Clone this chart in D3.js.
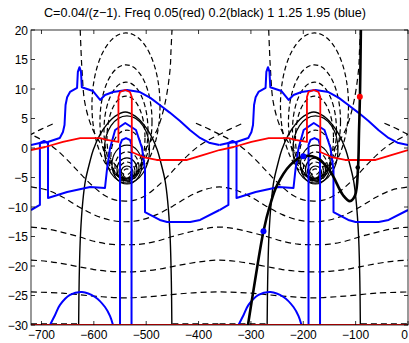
<!DOCTYPE html>
<html><head><meta charset="utf-8">
<script src="https://cdn.jsdelivr.net/npm/d3@7"></script>
<style>body{margin:0;background:#fff}svg{display:block}</style>
</head><body>
<svg id="chart" width="409" height="343"></svg>
<script>
const titleText = "C=0.04/(z\u22121). Freq 0.05(red) 0.2(black) 1 1.25 1.95 (blue)";
const xTickValues = [-700, -600, -500, -400, -300, -200, -100, 0];
const yTickValues = [-30, -25, -20, -15, -10, -5, 0, 5, 10, 15, 20];
const xDomain = [-720, 0];
const yDomain = [-30, 20];

// the contour pattern repeats every 360; centres of the two periods shown
const periodCentres = [-540, -180];

// ---- one period of each contour, x given as offset from the period centre ----
// freq 0.05 (red)
const redWave = [[-180,-0.34],[-153,0.17],[-119,1.02],[-86,1.69],[-48,1.69],[-35,1.36],[-13,1.02],
  [-13,8.64],[-10,9.49],[0,9.83],[9,9.49],[12.5,8.64],[12.5,-0.68],[34,-1.53],[60,-2.03],
  [118,-2.03],[148,-1.19],[180,-0.34]];

// freq 0.2 (black) – dashed level lines running across the whole range
const dashedWaves = [
  [[-180,-6.6],[-150,-7.1],[-120,-8.3],[-90,-9.9],[-60,-11.3],[-30,-12.2],[0,-12.5],
   [30,-12.2],[60,-11.3],[90,-9.9],[120,-8.3],[150,-7.1],[180,-6.6]],
  [[-180,-13.4],[-150,-13.7],[-120,-14.3],[-90,-15.0],[-60,-15.8],[-30,-16.3],[0,-16.4],
   [30,-16.3],[60,-15.8],[90,-15.0],[120,-14.3],[150,-13.7],[180,-13.4]],
  [[-180,-19.0],[-150,-19.2],[-120,-19.6],[-90,-20.1],[-60,-20.6],[-30,-20.9],[0,-21.0],
   [30,-20.9],[60,-20.6],[90,-20.1],[120,-19.6],[150,-19.2],[180,-19.0]],
  [[-180,-24.4],[-120,-24.6],[-60,-25.1],[0,-25.4],[60,-25.1],[120,-24.6],[180,-24.4]]
];
// wide dashed trough around each centre; neighbouring ones cross between periods
const dashedTrough = [[-225,4.2],[-200,3.2],[-180,2.3],[-160,1.4],[-140,0.3],[-120,-1.2],[-100,-3.0],[-80,-4.9],
  [-60,-6.6],[-40,-8.0],[-20,-8.8],[0,-9.0],[20,-8.8],[40,-8.0],[60,-6.6],[80,-4.9],[100,-3.0],
  [120,-1.2],[140,0.3],[160,1.4],[180,2.3],[200,3.2],[225,4.2]];
// dashed U opening upwards around each centre
const dashedU = [[-86,20],[-84.5,16.6],[-82.6,13.2],[-77,7.6],[-61.6,3.05],[-35,-0.85],[-16,-3.2],[1.4,-4.6],
  [18.6,-3.2],[34,-0.85],[60.6,3.05],[76,7.6],[85.5,13.2],[87.4,16.6],[89.3,20]];
// dashed segments along the lower edge
const dashedBottom = [[[-180,-29.8],[-90,-29.8]], [[90,-29.8],[180,-29.8]]];
// nested closed contours around each centre: [dx, y, rx, ry, dashed]
const rings = [
  [1.4, 7.2, 65, 12.3, 1], [1.4, 4.5, 49.7, 9.6, 1], [1.4, 2.97, 42, 8.2, 1], [1.4, 1.7, 36.3, 7.1, 1],
  [3.3, -0.25, 43, 5.7, 0], [3.3, -1.27, 30.6, 4.3, 1], [3.3, -2.8, 28.6, 3.3, 0], [3.3, -3.2, 22.9, 2.54, 1],
  [3.3, -3.64, 19.1, 1.95, 0], [3.3, -3.9, 15.3, 1.53, 1], [3.3, -4.15, 11.5, 1.1, 0], [3.3, -4.3, 7.6, 0.76, 1]
];
// solid arch
const solidArch = [[-89,-30],[-88,-22.4],[-85.5,-14.7],[-81,-9],[-76,-5.5],[-68,-2.5],[-61,-0.3],[-48,2.3],
  [-35,4.0],[-19,5.4],[0,6.1],[19,5.4],[35,4.0],[48,2.3],[61,-0.3],[68,-2.5],[76,-5.5],[81,-9],
  [85.5,-14.7],[88,-22.4],[89,-30]];

// freq 1, 1.25, 1.95 (blue)
const blueUpper = [[-180,0.51],[-163,0.85],[-148,1.02],[-125,1.69],[-119,2.71],[-116,3.9],[-114,7.3],[-111,8.6],
  [-105.5,9.5],[-92,10.2],[-90.5,12.9],[-87.4,13.7],[-84.5,12.9],[-83,10.3],[-61.6,9.66],[-48,8.14],
  [-38.7,8.98],[-23.4,9.49],[3.3,9.83],[28,9.49],[48,8.5],[66,7.29],[85,6.0],[104.6,4.58],[124,3.0],
  [142.8,1.7],[160,0.9],[180,0.51]];
const blueLower = [[-180,-10.51],[-163,-9.66],[-163,0.85],[-155,1.19],[-147.5,0.85],[-147.5,-8.47],
  [-111,-7.46],[-67,-6.61],[-38.7,-6.78],[-35,-3.73],[-29,0],[-19.3,3.05],[0,4.24],[20.5,3.05],
  [32,0],[37.7,-3.73],[37.7,-10.85],[66,-12.2],[80,-12.54],[124,-12.54],[143,-12.2],[180,-10.51]];
const blueSpike = [[-10,-30],[-10,0.51],[-6.2,1.36],[1.4,1.69],[9.1,1.36],[12,0.51],[12,-30]];
const blueDome = [[-143.7,-30],[-134,-28.3],[-124.6,-26.6],[-105.5,-24.9],[-82.6,-24.4],[-57.8,-25.25],
  [-38.7,-26.95],[-29,-28.5],[-23.4,-30]];

// single trajectory in the right period (absolute x)
const trackX = [-305.6,-292.2,-276,-263.5,-250,-225,-200,-174,-149,-124,-111,-101,-95.5,-93.5,-91.7,-90];
const trackY = [-30,-22.5,-14.1,-9.7,-6.3,-2.9,-1.4,-1.7,-3.9,-8.0,-9.0,-8.0,-3.4,3.0,9.0,20];
const markerX = [-92, -276, -200, -96];
const markerY = [8.7, -14.1, -1.4, -3.3];
const markerColour = ["#ff0000", "#0000ff", "#0000ff", "#000000"];
const markerSize = [3, 3, 3, 2.3];

const svg = d3.select("#chart");
const margin = {left: 31, right: 1, top: 30, bottom: 18};
const W = 409, H = 343;
const x = d3.scaleLinear().domain(xDomain).range([margin.left, W - margin.right]);
const y = d3.scaleLinear().domain(yDomain).range([H - margin.bottom, margin.top]);

svg.append("defs").append("clipPath").attr("id", "plotclip")
  .append("rect").attr("x", x(xDomain[0])).attr("y", y(yDomain[1]))
  .attr("width", x(xDomain[1]) - x(xDomain[0])).attr("height", y(yDomain[0]) - y(yDomain[1]));

const plot = svg.append("g").attr("clip-path", "url(#plotclip)");
const line = d3.line().x(d => x(d[0])).y(d => y(d[1]));
const smooth = d3.line().x(d => x(d[0])).y(d => y(d[1])).curve(d3.curveCatmullRom.alpha(0.5));

const shift = (pts, c) => pts.map(([dx, v]) => [c + dx, v]);
const acrossPeriods = pts => periodCentres.flatMap((c, i) => shift(i === 0 ? pts : pts.slice(1), c));

function draw(gen, pts, colour, width, dash) {
  plot.append("path").attr("d", gen(pts)).attr("fill", "none")
    .attr("stroke", colour).attr("stroke-width", width)
    .attr("stroke-dasharray", dash || null).attr("stroke-linejoin", "round");
}

// black dashed level lines
dashedWaves.forEach(w => draw(smooth, acrossPeriods(w), "#000", 1.2, "6,4"));
// troughs also repeat just outside the shown range so their branches enter from the edges
[-900, ...periodCentres, 180].forEach(c => draw(smooth, shift(dashedTrough, c), "#000", 1.2, "6,4"));
periodCentres.forEach(c => {
  draw(smooth, shift(dashedU, c), "#000", 1.2, "6,4");
  dashedBottom.forEach(s => draw(line, shift(s, c), "#000", 1.2, "6,4"));
  rings.forEach(([dx, cy, rx, ry, dashed]) => {
    plot.append("ellipse")
      .attr("cx", x(c + dx)).attr("cy", y(cy))
      .attr("rx", x(c + dx + rx) - x(c + dx)).attr("ry", y(cy - ry) - y(cy))
      .attr("fill", "none").attr("stroke", "#000").attr("stroke-width", 1.2)
      .attr("stroke-dasharray", dashed ? "5,3" : null);
  });
  draw(smooth, shift(solidArch, c), "#000", 1.4);
});

// blue contours
periodCentres.forEach(c => {
  draw(line, shift(blueUpper, c), "#0000ff", 2);
  draw(line, shift(blueLower, c), "#0000ff", 2);
  draw(line, shift(blueSpike, c), "#0000ff", 2);
  draw(smooth, shift(blueDome, c), "#0000ff", 2);
});

// red contours
draw(line, acrossPeriods(redWave), "#ff0000", 1.8);
draw(line, [[xDomain[0], -30], [xDomain[1], -30]], "#ff0000", 2.2);

// trajectory and markers
draw(smooth, trackX.map((v, i) => [v, trackY[i]]), "#000", 2.6);
plot.selectAll("circle.m").data(markerX).join("circle").attr("class", "m")
  .attr("cx", d => x(d)).attr("cy", (d, i) => y(markerY[i]))
  .attr("r", (d, i) => markerSize[i]).attr("fill", (d, i) => markerColour[i]);

// frame and ticks (ticks inward on all sides)
const font = "Liberation Sans, Arial, sans-serif";
const axes = svg.append("g").attr("font-family", font).attr("font-size", 12);
const x0 = x(xDomain[0]), x1 = x(xDomain[1]), y0 = y(yDomain[0]), y1 = y(yDomain[1]);
axes.append("rect").attr("x", x0).attr("y", y1).attr("width", x1 - x0).attr("height", y0 - y1)
  .attr("fill", "none").attr("stroke", "#000").attr("stroke-width", 0.8);
const tl = 4;
const fmt = v => v < 0 ? "\u2212" + Math.abs(v) : String(v);
xTickValues.forEach(v => {
  axes.append("line").attr("x1", x(v)).attr("x2", x(v)).attr("y1", y0).attr("y2", y0 - tl).attr("stroke", "#000").attr("stroke-width", 0.8);
  axes.append("line").attr("x1", x(v)).attr("x2", x(v)).attr("y1", y1).attr("y2", y1 + tl).attr("stroke", "#000").attr("stroke-width", 0.8);
  const atEdge = x(v) > W - 6;
  axes.append("text").attr("x", atEdge ? W - 1 : x(v)).attr("y", y0 + 14)
    .attr("text-anchor", atEdge ? "end" : "middle").text(fmt(v));
});
yTickValues.forEach(v => {
  axes.append("line").attr("x1", x0).attr("x2", x0 + tl).attr("y1", y(v)).attr("y2", y(v)).attr("stroke", "#000").attr("stroke-width", 0.8);
  axes.append("line").attr("x1", x1).attr("x2", x1 - tl).attr("y1", y(v)).attr("y2", y(v)).attr("stroke", "#000").attr("stroke-width", 0.8);
  axes.append("text").attr("x", x0 - 3).attr("y", y(v) + 4.5).attr("text-anchor", "end").text(fmt(v));
});
svg.append("text").attr("x", 205).attr("y", 17).attr("text-anchor", "middle")
  .attr("font-family", font).attr("font-size", 12.6).text(titleText);
</script>
</body></html>
